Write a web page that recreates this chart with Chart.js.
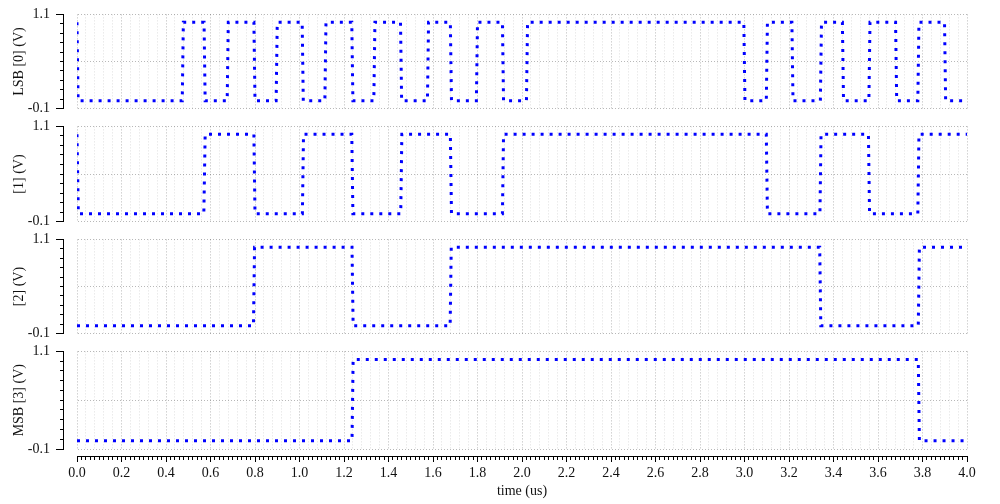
<!DOCTYPE html>
<html>
<head>
<meta charset="utf-8">
<script src="https://cdn.jsdelivr.net/npm/chart.js@4.4.1/dist/chart.umd.min.js"></script>
<style>
html,body{margin:0;padding:0;background:#fff;width:1000px;height:504px;overflow:hidden;}
.panel{position:absolute;left:0;width:1000px;}
canvas{display:block;}
</style>
</head>
<body>
<script>
// ---- data ----
const panelTitles = ['LSB [0] (V)', '[1] (V)', '[2] (V)', 'MSB [3] (V)'];

const bit0Time = [0, 0.005, 0.473, 0.478, 0.571, 0.576, 0.675, 0.680, 0.795, 0.800, 0.895, 0.900,
  1.012, 1.017, 1.114, 1.119, 1.235, 1.240, 1.334, 1.339, 1.454, 1.459, 1.575, 1.580,
  1.678, 1.683, 1.795, 1.800, 1.912, 1.917, 2.020, 2.025, 2.997, 3.002, 3.098, 3.103,
  3.213, 3.218, 3.341, 3.346, 3.440, 3.445, 3.559, 3.564, 3.679, 3.684, 3.779, 3.784,
  3.899, 3.904, 4.0];
const bit0Volt = [1, 0, 0, 1, 1, 0, 0, 1, 1, 0, 0, 1,
  1, 0, 0, 1, 1, 0, 0, 1, 1, 0, 0, 1,
  1, 0, 0, 1, 1, 0, 0, 1, 1, 0, 0, 1,
  1, 0, 0, 1, 1, 0, 0, 1, 1, 0, 0, 1,
  1, 0, 0];

const bit1Time = [0, 0.006, 0.570, 0.576, 0.795, 0.800, 1.013, 1.018, 1.235, 1.240, 1.455, 1.460,
  1.678, 1.683, 1.912, 1.917, 3.098, 3.103, 3.339, 3.344, 3.557, 3.562, 3.779, 3.784, 4.0];
const bit1Volt = [1, 0, 0, 1, 1, 0, 0, 1, 1, 0, 0, 1,
  1, 0, 0, 1, 1, 0, 0, 1, 1, 0, 0, 1, 1];

const bit2Time = [0, 0.793, 0.798, 1.236, 1.241, 1.677, 1.682, 3.338, 3.343, 3.781, 3.786, 4.0];
const bit2Volt = [0, 0, 1, 1, 0, 0, 1, 1, 0, 0, 1, 1];

const bit3Time = [0, 1.236, 1.241, 3.781, 3.786, 4.0];
const bit3Volt = [0, 0, 1, 1, 0, 0];

const xTickLabels = ['0.0','0.2','0.4','0.6','0.8','1.0','1.2','1.4','1.6','1.8','2.0',
  '2.2','2.4','2.6','2.8','3.0','3.2','3.4','3.6','3.8','4.0'];
const yTickValues = [-0.1, 0.02, 0.14, 0.26, 0.38, 0.5, 0.62, 0.74, 0.86, 0.98, 1.1];
const yTickLabels = ['-0.1', '1.1'];

// minor x ticks every 0.02 us
const xTickValues = [];
for (let k = 0; k <= 200; k++) xTickValues.push(Math.round(k * 2) / 100);

const signals = [
  {t: bit0Time, v: bit0Volt},
  {t: bit1Time, v: bit1Volt},
  {t: bit2Time, v: bit2Volt},
  {t: bit3Time, v: bit3Volt}
];

// ---- layout ----
const plotTop = [12, 124, 237, 349];
const plotBottom = [111, 224, 336, 449];
const majorGrid = 'rgba(0,0,0,0.28)';
const minorGrid = 'rgba(0,0,0,0.13)';

Chart.defaults.font.family = "'Liberation Serif', 'Times New Roman', serif";
Chart.defaults.font.size = 14;
Chart.defaults.color = '#111';

// Axes in the reference sit a little apart from the plotting area
const shiftAxes = {
  id: 'shiftAxes',
  afterLayout(chart) {
    const ca = chart.chartArea;
    const y = chart.scales.y;
    y.right = ca.left - 14;
    y.left = y.right - y.width;
    const x = chart.scales.x;
    if (chart.options.plugins.shiftAxes.showX) {
      x.top = ca.bottom + 7;
      x.bottom = x.top + x.height;
    }
  }
};

function makeChart(i) {
  const isLast = i === 3;
  const cTop = plotTop[i] - 12;
  const cH = isLast ? 504 - cTop : (plotBottom[i] - plotTop[i]) + 24;
  const div = document.createElement('div');
  div.className = 'panel';
  div.style.top = cTop + 'px';
  div.style.height = cH + 'px';
  const cv = document.createElement('canvas');
  cv.width = 1000; cv.height = cH;
  cv.style.width = '1000px'; cv.style.height = cH + 'px';
  div.appendChild(cv);
  document.body.appendChild(div);

  const sig = signals[i];
  const pts = sig.t.map((t, k) => ({x: t, y: sig.v[k]}));

  new Chart(cv, {
    type: 'line',
    data: {
      datasets: [{
        data: pts,
        borderColor: '#0000ff',
        borderWidth: 3,
        borderDash: [3, 6],
        borderCapStyle: 'butt',
        pointRadius: 0,
        tension: 0,
        fill: false
      }]
    },
    options: {
      responsive: false,
      animation: false,
      devicePixelRatio: 1,
      events: [],
      layout: {padding: {left: 21, right: 33, top: 12, bottom: isLast ? 0 : 12}},
      plugins: {
        legend: {display: false},
        tooltip: {enabled: false},
        shiftAxes: {showX: isLast}
      },
      scales: {
        x: {
          type: 'linear',
          min: 0,
          max: 4,
          afterBuildTicks: s => { s.ticks = xTickValues.map(v => ({value: v})); },
          afterFit: s => { s.height = isLast ? 55 : 0; },
          ticks: {
            display: isLast,
            autoSkip: false,
            maxRotation: 0,
            minRotation: 0,
            padding: 3,
            callback: (v, idx) => (idx % 10 === 0 ? xTickLabels[idx / 10] : '')
          },
          grid: {
            color: c => (c.index % 10 === 0 ? majorGrid : (c.index % 2 === 0 ? minorGrid : 'transparent')),
            lineWidth: 1,
            drawTicks: isLast,
            tickLength: 6,
            tickColor: '#000',
            tickWidth: 1,
            tickBorderDash: c => (c.index % 10 === 0 ? [] : [3, 100]),
            tickBorderDashOffset: 0
          },
          border: {display: isLast, color: '#000', width: 1, dash: [1, 2]},
          title: {display: isLast, text: 'time (us)', padding: {top: 0, bottom: 11.6}}
        },
        y: {
          type: 'linear',
          min: -0.1,
          max: 1.1,
          afterBuildTicks: s => { s.ticks = yTickValues.map(v => ({value: v})); },
          afterFit: s => { s.width = 56; },
          ticks: {
            autoSkip: false,
            padding: 6,
            callback: (v, idx) => (idx === 0 ? yTickLabels[0] : (idx === yTickValues.length - 1 ? yTickLabels[1] : ''))
          },
          grid: {
            color: c => (c.index % 5 === 0 ? majorGrid : 'transparent'),
            lineWidth: 1,
            drawTicks: true,
            tickLength: 7,
            tickColor: '#000',
            tickWidth: 1,
            tickBorderDash: c => ((c.index === 0 || c.index === yTickValues.length - 1) ? [] : [3, 100]),
            tickBorderDashOffset: c => ((c.index === 0 || c.index === yTickValues.length - 1) ? 0 : 99)
          },
          border: {display: true, color: '#000', width: 1, dash: [1, 2]},
          title: {display: true, text: panelTitles[i], padding: {top: 4, bottom: 4}}
        }
      }
    },
    plugins: [shiftAxes]
  });
}

for (let i = 0; i < 4; i++) makeChart(i);
</script>
</body>
</html>
